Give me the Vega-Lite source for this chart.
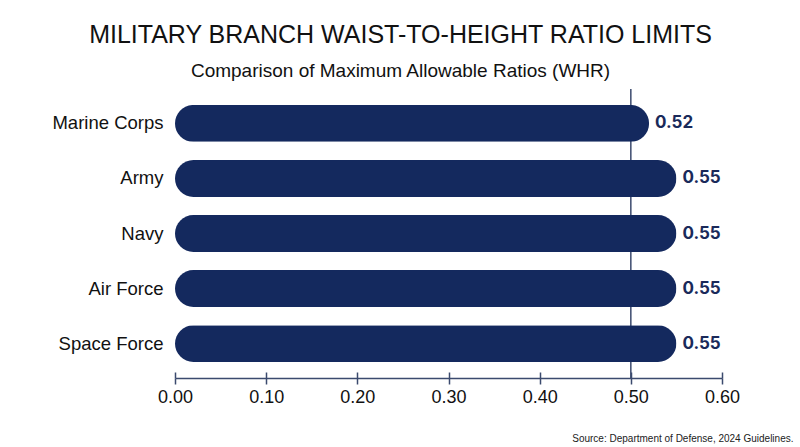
{
  "$schema": "https://vega.github.io/schema/vega-lite/v6.json",
  "width": 547,
  "height": 289,
  "autosize": "none",
  "padding": {"left": 175, "top": 89, "right": 78, "bottom": 69},
  "background": "white",
  "config": {"view": {"stroke": null}},
  "title": {
    "text": "MILITARY BRANCH WAIST-TO-HEIGHT RATIO LIMITS",
    "subtitle": "Comparison of Maximum Allowable Ratios (WHR)",
    "anchor": "middle",
    "frame": "group",
    "dx": -48,
    "fontSize": 25,
    "font": "Liberation Sans",
    "fontWeight": "normal",
    "color": "#111111",
    "subtitleFontSize": 19,
    "subtitleFont": "Liberation Sans",
    "subtitleColor": "#111111",
    "subtitlePadding": 14,
    "offset": 7
  },
  "datasets": {
    "branches": [
      {"branch": "Marine Corps", "whr": 0.52},
      {"branch": "Army", "whr": 0.55},
      {"branch": "Navy", "whr": 0.55},
      {"branch": "Air Force", "whr": 0.55},
      {"branch": "Space Force", "whr": 0.55}
    ],
    "reference": [{"whr": 0.5}]
  },
  "resolve": {"axis": {"x": "independent"}},
  "layer": [
    {
      "data": {"name": "reference"},
      "mark": {"type": "rule", "color": "#3b4a6e", "strokeWidth": 1.5},
      "encoding": {
        "x": {
          "field": "whr", "type": "quantitative",
          "scale": {"domain": [0, 0.6], "nice": false},
          "axis": {
            "orient": "bottom",
            "values": [0, 0.1, 0.2, 0.3, 0.4, 0.5, 0.6],
            "grid": false, "domain": false, "labels": false, "title": null,
            "tickColor": "#3b4a6e", "tickWidth": 1.5, "tickSize": -6
          }
        }
      }
    },
    {
      "data": {"name": "branches"},
      "mark": {"type": "bar", "color": "#14295e", "cornerRadius": 18.5},
      "encoding": {
        "y": {
          "field": "branch", "type": "nominal", "sort": null,
          "scale": {"paddingInner": 0.33, "paddingOuter": 0.29},
          "axis": {"title": null, "domain": false, "ticks": false, "labelFontSize": 18.5, "labelFont": "Liberation Sans", "labelColor": "#111111", "labelPadding": 12}
        },
        "x": {
          "field": "whr", "type": "quantitative",
          "scale": {"domain": [0, 0.6], "nice": false},
          "axis": {
            "orient": "bottom",
            "values": [0, 0.1, 0.2, 0.3, 0.4, 0.5, 0.6],
            "format": ".2f",
            "grid": false,
            "labelFlush": false,
            "domainColor": "#3b4a6e", "domainWidth": 1.5,
            "tickColor": "#3b4a6e", "tickWidth": 1.5, "tickSize": 6,
            "labelFontSize": 18, "labelFont": "Liberation Sans", "labelColor": "#111111", "labelPadding": 4,
            "title": "Source: Department of Defense, 2024 Guidelines.",
            "titleFont": "Liberation Sans", "titleFontSize": 10, "titleFontWeight": "normal", "titleColor": "#222222",
            "titleAnchor": "end", "titleAlign": "right", "titleX": 618, "titleY": 63, "titleBaseline": "alphabetic"
          }
        }
      }
    },
    {
      "data": {"name": "branches"},
      "mark": {"type": "text", "align": "left", "baseline": "middle", "dx": 6, "fontWeight": "bold", "fontSize": 17, "font": "Inter", "color": "#1a2a5a"},
      "encoding": {
        "y": {"field": "branch", "type": "nominal", "sort": null},
        "x": {"field": "whr", "type": "quantitative", "axis": null},
        "text": {"field": "whr", "type": "quantitative", "format": ".2f"}
      }
    }
  ]
}
